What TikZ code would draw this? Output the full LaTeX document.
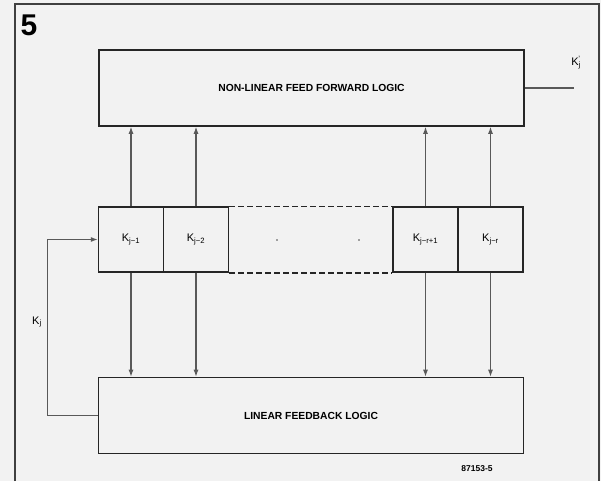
\documentclass[tikz,border=0pt]{standalone}
\usepackage{fontspec}
\setmainfont{Liberation Sans}
\usetikzlibrary{arrows.meta,positioning}

\begin{document}
\begin{tikzpicture}[x=1pt,y=-1pt,node distance=65pt,on grid,>={Latex[length=7pt,width=5pt]}]
  \tikzstyle{logic}=[rectangle,draw=black!85,line width=1.6pt,
                     minimum width=425pt,minimum height=76pt,font=\fontsize{10.3}{12}\selectfont\bfseries]
  \tikzstyle{cell}=[rectangle,draw=black!85,line width=1.4pt,minimum size=65pt,
                    font=\fontsize{11}{13}\selectfont]
  \tikzstyle{wire}=[draw=black!65,line width=1.1pt]

  \fill[black!5] (0,0) rectangle (601,481);
  \draw[black!75,line width=1.2pt] (15,481) -- (15,4) -- (599,4) -- (599,481);
  \node (fig) at (29,25) {\fontsize{30}{30}\selectfont\bfseries 5};

  \node[logic] (ffl) at (311.5,88) {NON-LINEAR FEED FORWARD LOGIC};
  \node[logic] (lfl) at (311,415.5) {LINEAR FEEDBACK LOGIC};

  \node[cell] (r1) at (131,239.5) {K\textsubscript{j−1}};
  \node[cell] (r2) [right=of r1] {K\textsubscript{j−2}};
  \node[cell] (r3) at (425.5,239.5) {K\textsubscript{j−r+1}};
  \node[cell] (r4) [right=of r3] {K\textsubscript{j−r}};

  % shift register gap
  \draw[black!85,line width=1.6pt,dash pattern=on 6pt off 3pt] (r2.north east) -- (r3.north west);
  \draw[black!85,line width=1.6pt,dash pattern=on 6pt off 3pt] (r2.south east) -- (r3.south west);
  \fill[black!70] (277,240) circle (0.9pt) (359,240) circle (0.9pt);

  \draw[wire,->] (r1.north) -- (r1 |- ffl.south);
  \draw[wire,->] (r2.north) -- (r2 |- ffl.south);
  \draw[wire,->] (r3.north) -- (r3 |- ffl.south);
  \draw[wire,->] (r4.north) -- (r4 |- ffl.south);

  \draw[wire,->] (r1.south) -- (r1 |- lfl.north);
  \draw[wire,->] (r2.south) -- (r2 |- lfl.north);
  \draw[wire,->] (r3.south) -- (r3 |- lfl.north);
  \draw[wire,->] (r4.south) -- (r4 |- lfl.north);

  % feedback and output
  \draw[wire,->] (lfl.west) -- ++(-50,0) |- (r1.west);
  \node[font=\fontsize{11}{13}\selectfont] (kj) at (37,322) {K\textsubscript{j}};
  \coordinate (kout) at (574,88);
  \draw[wire] (ffl.east) -- (kout);
  \node[font=\fontsize{11}{13}\selectfont] (kjo) at (576,63) {K\textsubscript{j}\kern-2.5pt\textsuperscript{'}};

  \node[font=\fontsize{8.5}{10}\selectfont\bfseries] (code) at (477,469) {87153-5};
\end{tikzpicture}
\end{document}
